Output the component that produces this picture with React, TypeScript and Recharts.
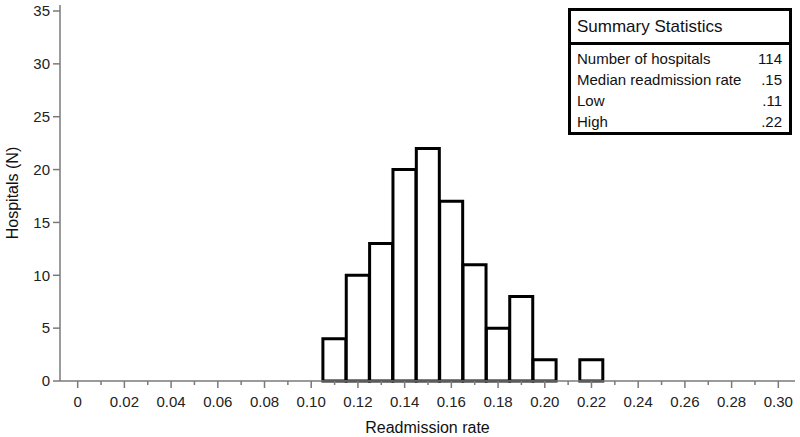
import React from 'react';
import { ComposedChart, Bar, XAxis, YAxis, Label } from 'recharts';

// histogram bins (bin centre, width 0.01)
const binCenters = [
  '0', '0.01', '0.02', '0.03', '0.04', '0.05', '0.06', '0.07', '0.08', '0.09',
  '0.10', '0.11', '0.12', '0.13', '0.14', '0.15', '0.16', '0.17', '0.18', '0.19',
  '0.20', '0.21', '0.22', '0.23', '0.24', '0.25', '0.26', '0.27', '0.28', '0.29', '0.30',
];
const hospitals = [
  0, 0, 0, 0, 0, 0, 0, 0, 0, 0,
  0, 4, 10, 13, 20, 22, 17, 11, 5, 8,
  2, 0, 2, 0, 0, 0, 0, 0, 0, 0, 0,
];
const xTickLabels = [
  '0', '0.02', '0.04', '0.06', '0.08', '0.10', '0.12', '0.14',
  '0.16', '0.18', '0.20', '0.22', '0.24', '0.26', '0.28', '0.30',
];
const yTicks = [0, 5, 10, 15, 20, 25, 30, 35];

const statLabels = ['Number of hospitals', 'Median readmission rate', 'Low', 'High'];
const statValues = ['114', '.15', '.11', '.22'];

const data = binCenters.map((bin, i) => ({ bin, count: hospitals[i] }));

const FONT = '"Liberation Sans", Arial, sans-serif';
const AXIS = '#7a7a7a';

const XTick = (props: any) => {
  const { x, y, index } = props;
  const major = index % 2 === 0;
  return (
    <g>
      <line x1={x} x2={x} y1={y} y2={y + (major ? 7 : 4)} stroke={AXIS} strokeWidth={1.5} />
      {major && (
        <text x={x} y={y + 26} textAnchor="middle" fontSize={15} fill="#222" fontFamily={FONT}>
          {xTickLabels[index / 2]}
        </text>
      )}
    </g>
  );
};

const App: React.FC = () => {
  return (
    <div style={{ position: 'absolute', left: 0, top: 0, width: 800, height: 437, background: '#fff', fontFamily: FONT }}>
      <ComposedChart
        width={800}
        height={437}
        data={data}
        barCategoryGap={0}
        margin={{ top: 5, right: 5, left: 0, bottom: 20 }}
      >
        <XAxis
          xAxisId="main"
          dataKey="bin"
          interval={0}
          height={36}
          padding={{ left: 6, right: 5 }}
          axisLine={{ stroke: AXIS, strokeWidth: 1.5 }}
          tickLine={false}
          tickSize={0}
          tickMargin={0}
          tick={<XTick />}
        >
          <Label
            content={({ viewBox }: any) => (
              <text
                x={viewBox.x + viewBox.width / 2}
                y={viewBox.y + 52}
                textAnchor="middle"
                fontSize={16}
                fill="#111"
                fontFamily={FONT}
              >
                Readmission rate
              </text>
            )}
          />
        </XAxis>
        <XAxis
          xAxisId="top"
          dataKey="bin"
          orientation="top"
          height={0}
          tick={false}
          tickLine={false}
          axisLine={{ stroke: '#999', strokeWidth: 1.5 }}
        />
        <YAxis
          yAxisId="left"
          width={60}
          domain={[0, 35]}
          ticks={yTicks}
          interval={0}
          padding={{ top: 6, bottom: 0 }}
          tickSize={7}
          tickMargin={3}
          axisLine={{ stroke: AXIS, strokeWidth: 1.5 }}
          tickLine={{ stroke: AXIS, strokeWidth: 1.5 }}
          tick={{ fill: '#222', fontSize: 15, fontFamily: FONT }}
        >
          <Label
            content={({ viewBox }: any) => {
              const cx = 12;
              const cy = viewBox.y + viewBox.height / 2;
              return (
                <text
                  x={cx}
                  y={cy}
                  transform={`rotate(-90 ${cx} ${cy})`}
                  textAnchor="middle"
                  dominantBaseline="central"
                  fontSize={16}
                  fill="#111"
                  fontFamily={FONT}
                >
                  Hospitals (N)
                </text>
              );
            }}
          />
        </YAxis>
        <YAxis
          yAxisId="right"
          orientation="right"
          width={0}
          tick={false}
          tickLine={false}
          axisLine={{ stroke: '#999', strokeWidth: 1.5 }}
        />
        <Bar
          xAxisId="main"
          yAxisId="left"
          dataKey="count"
          fill="#fff"
          stroke="#000"
          strokeWidth={3}
          isAnimationActive={false}
        />
      </ComposedChart>

      <div
        style={{
          position: 'absolute',
          left: 568,
          top: 8,
          width: 218,
          height: 121,
          border: '3px solid #000',
          background: '#fff',
          color: '#111',
        }}
      >
        <div style={{ height: 31, borderBottom: '3px solid #000', fontSize: 17, lineHeight: '32px', paddingLeft: 6 }}>
          Summary Statistics
        </div>
        <div style={{ paddingTop: 3 }}>
          {statLabels.map((label, i) => (
            <div
              key={label}
              style={{ display: 'flex', justifyContent: 'space-between', fontSize: 15, lineHeight: '21px', padding: '0 7px 0 6px' }}
            >
              <span>{label}</span>
              <span>{statValues[i]}</span>
            </div>
          ))}
        </div>
      </div>
    </div>
  );
};

export default App;
